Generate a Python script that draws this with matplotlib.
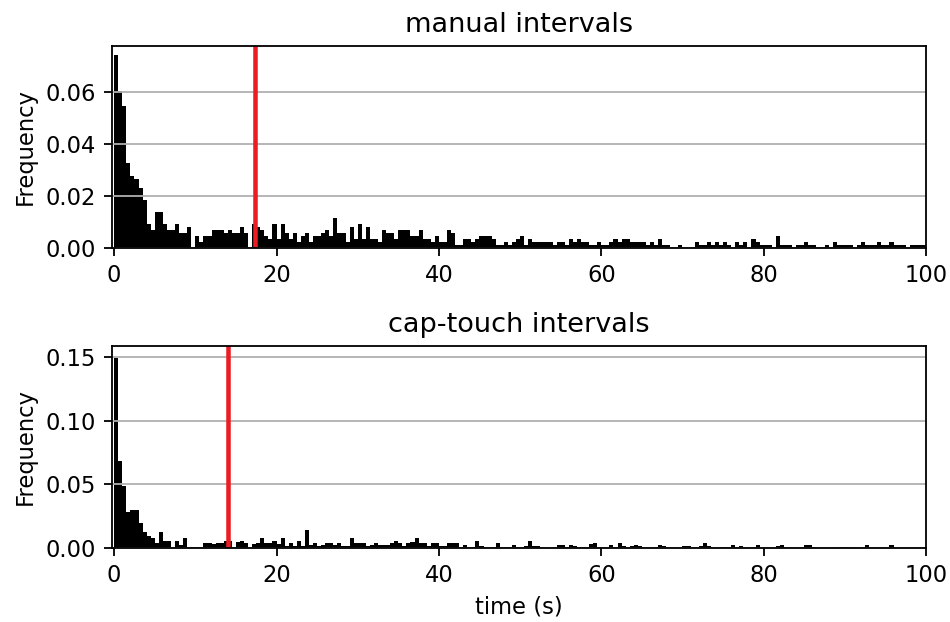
import numpy as np
import matplotlib.pyplot as plt

# histogram bins: 0.5 s wide, 0..100 s
bin_width = 0.5
bin_left = np.arange(0, 100, bin_width)

# frequency per bin
manual_freq = [
    0.0742, 0.0603, 0.0545, 0.0325, 0.0278, 0.0267, 0.0232, 0.0186, 0.0093, 0.0070,
    0.0139, 0.0139, 0.0093, 0.0070, 0.0070, 0.0093, 0.0058, 0.0058, 0.0081, 0.0,
    0.0046, 0.0023, 0.0046, 0.0046, 0.0070, 0.0070, 0.0070, 0.0058, 0.0070, 0.0058,
    0.0058, 0.0081, 0.0058, 0.0, 0.0093, 0.0081, 0.0070, 0.0046, 0.0035, 0.0093,
    0.0035, 0.0093, 0.0058, 0.0035, 0.0058, 0.0023, 0.0046, 0.0058, 0.0023, 0.0046,
    0.0046, 0.0058, 0.0070, 0.0046, 0.0116, 0.0058, 0.0058, 0.0023, 0.0081, 0.0035,
    0.0093, 0.0035, 0.0081, 0.0035, 0.0035, 0.0023, 0.0070, 0.0058, 0.0058, 0.0035,
    0.0070, 0.0070, 0.0070, 0.0046, 0.0046, 0.0070, 0.0035, 0.0035, 0.0023, 0.0046,
    0.0023, 0.0023, 0.0070, 0.0058, 0.0012, 0.0012, 0.0035, 0.0035, 0.0023, 0.0035,
    0.0046, 0.0046, 0.0046, 0.0035, 0.0012, 0.0012, 0.0023, 0.0012, 0.0023, 0.0035,
    0.0046, 0.0012, 0.0035, 0.0023, 0.0023, 0.0023, 0.0023, 0.0023, 0.0012, 0.0023,
    0.0023, 0.0012, 0.0035, 0.0023, 0.0035, 0.0023, 0.0023, 0.0012, 0.0012, 0.0023,
    0.0012, 0.0012, 0.0023, 0.0035, 0.0023, 0.0035, 0.0035, 0.0023, 0.0023, 0.0023,
    0.0023, 0.0012, 0.0023, 0.0012, 0.0035, 0.0012, 0.0012, 0.0, 0.0, 0.0012,
    0.0, 0.0, 0.0, 0.0023, 0.0012, 0.0012, 0.0023, 0.0012, 0.0023, 0.0012,
    0.0023, 0.0012, 0.0, 0.0023, 0.0012, 0.0023, 0.0, 0.0035, 0.0023, 0.0012,
    0.0012, 0.0012, 0.0, 0.0046, 0.0012, 0.0012, 0.0012, 0.0, 0.0012, 0.0012,
    0.0023, 0.0012, 0.0012, 0.0, 0.0, 0.0012, 0.0, 0.0023, 0.0012, 0.0012,
    0.0012, 0.0012, 0.0, 0.0012, 0.0023, 0.0012, 0.0012, 0.0012, 0.0023, 0.0012,
    0.0012, 0.0023, 0.0012, 0.0012, 0.0012, 0.0, 0.0012, 0.0012, 0.0012, 0.0012,
]

captouch_freq = [
    0.1495, 0.0683, 0.0490, 0.0285, 0.0301, 0.0301, 0.0199, 0.0128, 0.0097, 0.0081,
    0.0042, 0.0128, 0.0055, 0.0055, 0.0, 0.0055, 0.0024, 0.0081, 0.0010, 0.0010,
    0.0010, 0.0010, 0.0039, 0.0039, 0.0029, 0.0039, 0.0039, 0.0055, 0.0055, 0.0,
    0.0050, 0.0055, 0.0037, 0.0, 0.0029, 0.0039, 0.0076, 0.0039, 0.0039, 0.0055,
    0.0029, 0.0076, 0.0016, 0.0042, 0.0016, 0.0055, 0.0016, 0.0141, 0.0024, 0.0042,
    0.0016, 0.0024, 0.0037, 0.0037, 0.0024, 0.0042, 0.0016, 0.0016, 0.0076, 0.0037,
    0.0042, 0.0042, 0.0016, 0.0024, 0.0037, 0.0024, 0.0024, 0.0024, 0.0037, 0.0055,
    0.0037, 0.0016, 0.0037, 0.0050, 0.0076, 0.0042, 0.0037, 0.0016, 0.0037, 0.0042,
    0.0016, 0.0016, 0.0037, 0.0039, 0.0039, 0.0, 0.0026, 0.0, 0.0010, 0.0055,
    0.0016, 0.0010, 0.0010, 0.0, 0.0039, 0.0010, 0.0010, 0.0010, 0.0026, 0.0010,
    0.0010, 0.0016, 0.0055, 0.0016, 0.0016, 0.0010, 0.0, 0.0, 0.0, 0.0026,
    0.0026, 0.0010, 0.0026, 0.0016, 0.0010, 0.0010, 0.0010, 0.0029, 0.0039, 0.0010,
    0.0010, 0.0, 0.0024, 0.0010, 0.0039, 0.0016, 0.0, 0.0016, 0.0026, 0.0016,
    0.0, 0.0, 0.0, 0.0010, 0.0026, 0.0016, 0.0, 0.0, 0.0, 0.0,
    0.0016, 0.0016, 0.0, 0.0, 0.0016, 0.0039, 0.0016, 0.0, 0.0, 0.0010,
    0.0010, 0.0010, 0.0026, 0.0010, 0.0016, 0.0, 0.0, 0.0, 0.0026, 0.0,
    0.0, 0.0, 0.0, 0.0016, 0.0026, 0.0, 0.0010, 0.0, 0.0, 0.0,
    0.0026, 0.0026, 0.0010, 0.0, 0.0, 0.0, 0.0, 0.0, 0.0010, 0.0010,
    0.0010, 0.0, 0.0, 0.0, 0.0, 0.0026, 0.0, 0.0, 0.0010, 0.0,
    0.0, 0.0026, 0.0, 0.0, 0.0, 0.0, 0.0, 0.0, 0.0, 0.0010,
]

# mean interval markers (red lines)
manual_mark = 17.4
captouch_mark = 14.0

titles = ['manual intervals', 'cap-touch intervals']
ylims = [0.0777, 0.1586]
yticks = [[0.00, 0.02, 0.04, 0.06], [0.00, 0.05, 0.10, 0.15]]

dpi = 163
fig = plt.figure(figsize=(951 / dpi, 622 / dpi), dpi=dpi)
ax1 = fig.add_axes([0.1175, 0.6013, 0.8562, 0.3248])
ax2 = fig.add_axes([0.1175, 0.119, 0.8562, 0.3248])

for ax, freq, mark, title, ytop, yt in zip([ax1, ax2], [manual_freq, captouch_freq],
                                          [manual_mark, captouch_mark], titles, ylims, yticks):
    ax.bar(bin_left, freq, width=bin_width, align='edge', color='black', linewidth=0)
    ax.axvline(mark, color='#ec1c24', linewidth=2)
    ax.yaxis.grid(True, color='#b0b0b0', linewidth=0.8)
    ax.set_xlim(-0.3, 100)
    ax.set_ylim(0, ytop)
    ax.set_yticks(yt)
    ax.set_xticks([0, 20, 40, 60, 80, 100])
    ax.set_ylabel('Frequency')
    ax.set_title(title)

ax2.set_xlabel('time (s)')

plt.savefig('out.png', dpi=dpi)
